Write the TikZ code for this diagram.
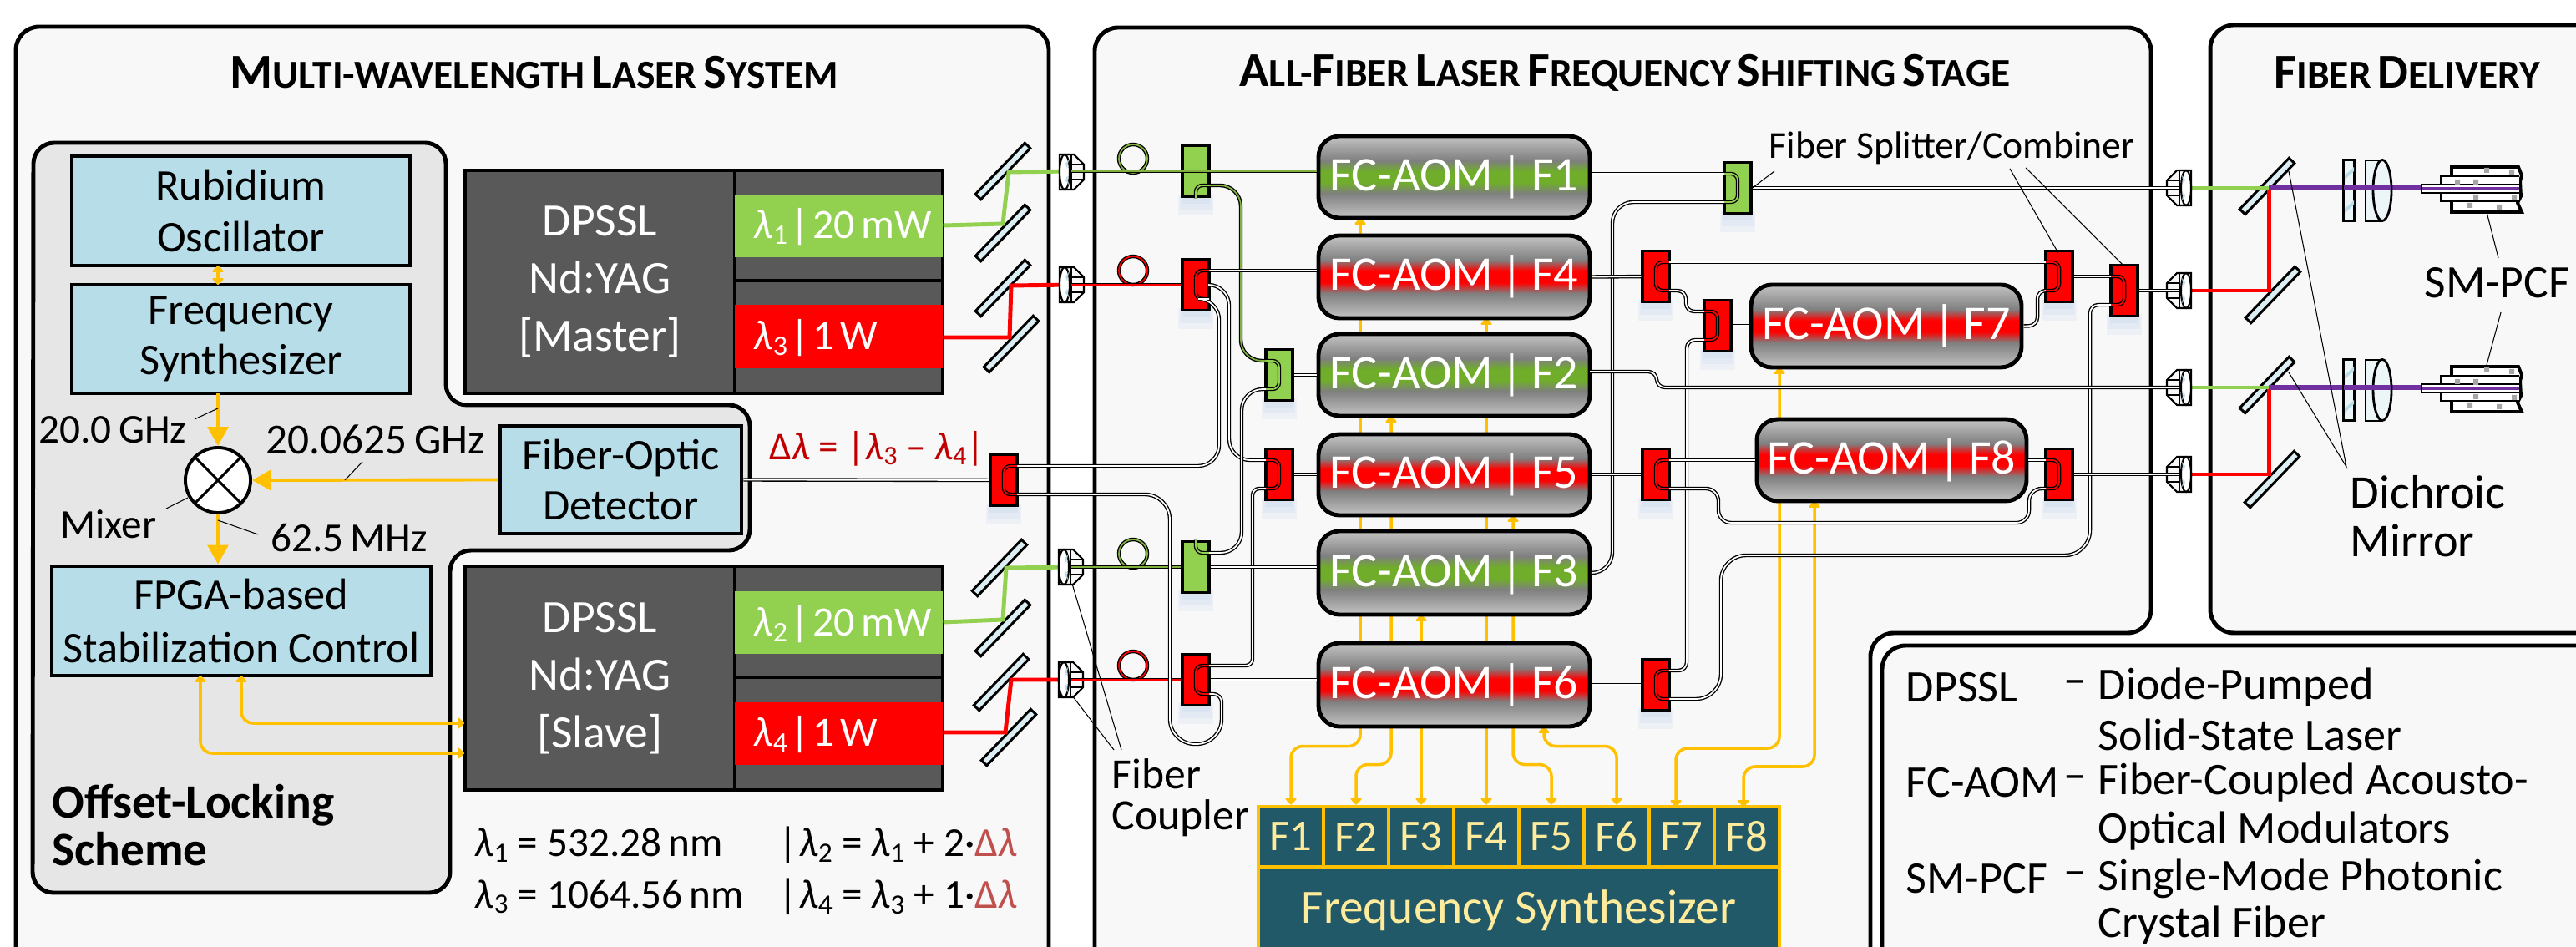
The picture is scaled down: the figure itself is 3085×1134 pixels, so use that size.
\documentclass[tikz,border=0pt]{standalone}
\usepackage{fontspec}
\usepackage{graphicx}
\setmainfont{Carlito}
\usetikzlibrary{arrows.meta,calc}
\definecolor{panelbg}{HTML}{F8F8F8}
\definecolor{grayzone}{HTML}{E6E6E6}
\definecolor{boxblue}{HTML}{B7DDE8}
\definecolor{dark}{HTML}{595959}
\definecolor{lgreen}{HTML}{92D050}
\definecolor{lred}{HTML}{FF0000}
\definecolor{rfy}{HTML}{FFC000}
\definecolor{teal}{HTML}{215968}
\definecolor{tyel}{HTML}{FFEB9C}
\definecolor{mirrorb}{HTML}{DAEEF3}
\definecolor{dred}{HTML}{C00000}
\definecolor{sred}{HTML}{C0504D}
\definecolor{gL}{HTML}{C4C4C4}
\definecolor{gM}{HTML}{7F7F7F}
\definecolor{agreen}{HTML}{6FAD2A}
\definecolor{fgreen}{HTML}{7FB040}
\definecolor{purp}{HTML}{7030A0}
\definecolor{glowc}{HTML}{8DB4E2}
\pgfdeclareverticalshading{aomR}{100bp}{color(0bp)=(gL);color(25bp)=(gL);color(40bp)=(gM);color(46.5bp)=(lred);color(53.5bp)=(lred);color(60bp)=(gM);color(75bp)=(gL);color(100bp)=(gL)}
\pgfdeclareverticalshading{aomG}{100bp}{color(0bp)=(gL);color(25bp)=(gL);color(40bp)=(gM);color(46.5bp)=(agreen);color(53.5bp)=(agreen);color(60bp)=(gM);color(75bp)=(gL);color(100bp)=(gL)}
\pgfdeclarelayer{backl}
\pgfdeclarelayer{wires}
\pgfsetlayers{backl,wires,main}
\newcommand\fs[2]{\fontsize{#1}{#2}\selectfont}
\newcommand\lsub[1]{\raisebox{-0.28ex}{\scalebox{0.68}{#1}}}
\newcommand\lam[1]{{\itshape λ}\lsub{#1}}
\newcommand\SC[2]{{\fs{16.6}{16}#1}{\fs{13.5}{16}#2}}
\newcommand\bx[7]{\node[#6,inner sep=0pt,minimum width={(#4-#2)*0.01cm},minimum height={(#5-#3)*0.01cm}] (#1) at ({(#2+#4)/2},{(#3+#5)/2}) {#7};}
\newcommand\splitter[4]{%
 \foreach \e/\w in {8/17,15/19,22/21}{\fill[glow] ({#2-\w},{#3+28}) rectangle ({#2+\w},{#3+31+\e});}
 \node[splitbox,fill=#4] (#1) at (#2,#3) {};
 \coordinate (#1-tr) at ({#2+16},{#3-17});
 \coordinate (#1-br) at ({#2+16},{#3+17});
 \coordinate (#1-tl) at ({#2-16},{#3-17});
 \coordinate (#1-bl) at ({#2-16},{#3+17});
 \coordinate (#1-ct) at (#2,{#3-17});
 \coordinate (#1-cb) at (#2,{#3+17});
 \coordinate (#1-mr) at ({#2+16},#3);
}
\newcommand\Ur[2]{\draw[#2,rounded corners=.08cm] (#1-tr) -- (#1-ct) -- (#1-cb) -- (#1-br);}
\newcommand\Ul[2]{\draw[#2,rounded corners=.08cm] (#1-tl) -- (#1-ct) -- (#1-cb) -- (#1-bl);}
\tikzset{
 x=0.01cm,y=-0.01cm,
 panel/.style={draw=black,line width=1.4pt,fill=panelbg,rounded corners=.28cm},
 bluebox/.style={draw=black,line width=1.4pt,fill=boxblue,align=center,font=\fs{14.9}{17}},
 darkbox/.style={draw=black,line width=1.2pt,fill=dark,text=white,align=center,font=\fs{15.8}{19.6}},
 colbar/.style={fill=#1,draw=none},
 ltext/.style={text=white,font=\fs{14.2}{17},anchor=west,inner sep=0pt},
 txt/.style={font=\fs{14}{17},inner sep=0pt,align=left},
 aomn/.style={draw=black,line width=1.4pt,rounded corners=.25cm,shade,shading=#1,text=white,font=\fs{16.5}{17}},
 splitbox/.style={draw=black,line width=1pt,minimum width=.32cm,minimum height=.61cm,inner sep=0pt},
 glow/.style={fill=glowc,opacity=.1},
 mirror/.style={draw=black,line width=.85pt,fill=mirrorb,rotate=46,minimum width=.85cm,minimum height=.09cm,inner sep=0pt},
 fib/.style={draw=black,line width=.38pt,double=white,double distance=.5pt},
 fibG/.style={draw=black,line width=.38pt,double=fgreen,double distance=.5pt},
 fibL/.style={draw=black,line width=.38pt,double=lgreen,double distance=.5pt},
 fibR/.style={draw=black,line width=.38pt,double=lred,double distance=.5pt},
 beam/.style={line width=1.4pt,draw=#1,line join=miter},
 rf/.style={draw=rfy,line width=1pt,rounded corners=.14cm,{Triangle[round,length=2.4pt,width=4.4pt]}-{Triangle[round,length=2.4pt,width=4.4pt]}},
 sig/.style={draw=rfy,line width=1.1pt,-{Triangle[length=6.5pt,width=7pt]}},
 leader/.style={draw=black,line width=.3pt},
 wplate/.style={draw=black,line width=.8pt,fill=mirrorb!50,minimum width=.13cm,minimum height=.73cm,inner sep=0pt},
 pics/lensc/.style={code={
  \draw[line width=.6pt,fill=panelbg] (-14,-21) -- (3,-21) -- (15,-9) -- (15,9) -- (3,21) -- (-14,21) -- cycle;
  \draw[line width=.4pt] (0,-21) -- (0,21);
  \draw[line width=.4pt] (0,-9) -- (15,-9) (0,9) -- (15,9);
  \draw[line width=.6pt,fill=white] (-8,0) ellipse (6 and 21);
  \fill[boxblue] (-7,-10) -- (-3,-15) -- (-5,-4) -- cycle (-7,10) -- (-3,15) -- (-5,4) -- cycle;
 }},
 pics/fibtip/.style={code={
  \draw[line width=1.1pt,fill=white] (36,-25) -- (116,-25) -- (120,-15) -- (118,-8) -- (119,10) -- (115,18) -- (120,29) -- (36,29) -- cycle;
  \draw[line width=.8pt,fill=white] (117,-14) -- (23,-14) -- (23,16) -- (117,16);
  \draw[line width=.5pt,fill=white] (117,-4) -- (0,-4) -- (0,6) -- (117,6);
  \fill[black!35] (40,-10) rectangle (46,-4) (75,-24) rectangle (81,-18) (62,8) rectangle (68,14) (90,20) rectangle (96,26) (62,-10) rectangle (68,-3) (105,-22) rectangle (111,-16) (55,18) rectangle (61,24) (108,9) rectangle (114,15);
  \draw[line width=.9pt,purp] (0,1) -- (117,1);
 }},
}
\begin{document}
\begin{tikzpicture}
\useasboundingbox (0,0) rectangle (3085,1134);
\begin{pgfonlayer}{backl}
\draw[panel] (19,32) rectangle (1256,1240);
\draw[panel] (1311,1240) -- (1311,33) -- (2576,33) -- (2576,758) -- (2240,758) -- (2240,1240);
\draw[panel] (2647,30) rectangle (3200,758);
\draw[panel] (2254,1240) -- (2254,773) -- (3200,773) -- (3200,1240);
\draw[draw=black,line width=1.4pt,fill=grayzone,rounded corners=.25cm] (40,171) -- (534,171) -- (534,485) -- (898,485) -- (898,659) -- (539,659) -- (539,1069) -- (39,1069) -- cycle;
\end{pgfonlayer}

% titles
\node[font=\bfseries,inner sep=0pt] (t1) at (640,87) {\SC{M}{ULTI-WAVELENGTH} \SC{L}{ASER} \SC{S}{YSTEM}};
\node[font=\bfseries,inner sep=0pt] (t2) at (1946,87) {\SC{A}{LL-}\SC{F}{IBER} \SC{L}{ASER} \SC{F}{REQUENCY} \SC{S}{HIFTING} \SC{S}{TAGE}};
\node[font=\bfseries,inner sep=0pt] (t3) at (2883,87) {\SC{F}{IBER} \SC{D}{ELIVERY}};

% offset locking
\bx{rub}{86}{187}{491}{318}{bluebox}{Rubidium\\[.6pt]Oscillator}
\bx{fsy}{86}{341}{491}{471}{bluebox}{Frequency\\Synthesizer}
\bx{det}{599}{510}{888}{639}{bluebox}{Fiber-Optic\\Detector}
\bx{fpga}{62}{678}{516}{809}{bluebox}{FPGA-based\\[1pt]Stabilization Control}
\node[draw=black,line width=1.1pt,fill=white,circle,minimum size=.78cm,inner sep=0pt] (mix) at (261,575) {};
\draw[line width=.9pt] (mix.north west) -- (mix.south east) (mix.north east) -- (mix.south west);
\node[txt] (l20) at (135,515) {20.0\,GHz};
\node[txt,font=\fs{14.6}{17}] (l206) at (450,526) {20.0625\,GHz};
\node[txt] (lmix) at (130,628) {Mixer};
\node[txt] (l62) at (418,644) {62.5\,MHz};
\node[font=\bfseries\fs{16.3}{16.2},align=left,inner sep=0pt,anchor=north west] (ols) at (62,939) {Offset-Locking\\Scheme};

% lasers
\bx{m1}{557}{204}{880}{471}{darkbox}{DPSSL\\Nd:YAG\\{[Master]}}
\bx{m2}{880}{204}{1129}{336}{darkbox}{}
\bx{m3}{880}{336}{1129}{471}{darkbox}{}
\bx{mg}{880}{233}{1129}{308}{colbar=lgreen}{}
\bx{mr}{880}{365}{1129}{441}{colbar=lred}{}
\node[ltext] (mgt) at (902,272) {\lam{1}\hspace{1pt}|\hspace{1pt}20\,mW};
\node[ltext] (mrt) at (902,405) {\lam{3}\hspace{1pt}|\hspace{1pt}1\,W};
\bx{s1}{557}{678}{880}{946}{darkbox}{DPSSL\\Nd:YAG\\{[Slave]}}
\bx{s2}{880}{678}{1129}{811}{darkbox}{}
\bx{s3}{880}{811}{1129}{946}{darkbox}{}
\bx{sg}{880}{708}{1129}{783}{colbar=lgreen}{}
\bx{sr}{880}{841}{1129}{916}{colbar=lred}{}
\node[ltext] (sgt) at (902,748) {\lam{2}\hspace{1pt}|\hspace{1pt}20\,mW};
\node[ltext] (srt) at (902,880) {\lam{4}\hspace{1pt}|\hspace{1pt}1\,W};

% equations
\node[txt,anchor=west] (e1) at (568,1012) {\lam{1} = 532.28\,nm};
\node[txt,anchor=west] (e2) at (568,1074) {\lam{3} = 1064.56\,nm};
\node[txt,anchor=west] (e3) at (932,1012) {|\hspace{.5pt}\lam{2} = \lam{1} + 2·{\color{sred}Δ\itshape λ}};
\node[txt,anchor=west] (e4) at (932,1074) {|\hspace{.5pt}\lam{4} = \lam{3} + 1·{\color{sred}Δ\itshape λ}};
\node[txt,anchor=west,text=dred,font=\fs{13.4}{17}] (dl) at (921,537) {Δ{\itshape λ} = |\lam{3} – \lam{4}|};

% AOMs
\bx{aomF1}{1579}{163}{1904}{261}{aomn=aomG}{FC-AOM\,|\,F1}
\bx{aomF4}{1579}{282}{1904}{381}{aomn=aomR}{FC-AOM\,|\,F4}
\bx{aomF2}{1579}{400}{1904}{498}{aomn=aomG}{FC-AOM\,|\,F2}
\bx{aomF5}{1579}{520}{1904}{617}{aomn=aomR}{FC-AOM\,|\,F5}
\bx{aomF3}{1579}{636}{1904}{736}{aomn=aomG}{FC-AOM\,|\,F3}
\bx{aomF6}{1579}{770}{1904}{870}{aomn=aomR}{FC-AOM\,|\,F6}
\bx{aomF7}{2097}{341}{2421}{440}{aomn=aomR}{FC-AOM\,|\,F7}
\bx{aomF8}{2104}{502}{2427}{600}{aomn=aomR}{FC-AOM\,|\,F8}

% synthesizer
\bx{syn}{1507}{1038}{2131}{1240}{draw=rfy,line width=1.4pt,fill=teal}{}
\node[text=tyel,font=\fs{16.3}{17},inner sep=0pt] (synt) at (1819,1090) {Frequency Synthesizer};
\foreach \i in {1,...,8}{
 \bx{c\i}{(1507+78*(\i-1))}{966}{(1507+78*\i)}{1038}{draw=rfy,line width=1.4pt,fill=teal,text=tyel,font=\fs{15}{17}}{F\i}
}

% RF ports
\coordinate (rf1) at (1629,261);
\coordinate (rf2) at (1666,498);
\coordinate (rf3) at (1702,736);
\coordinate (rf4) at (1780,381);
\coordinate (rf5) at (1812,617);
\coordinate (rf6) at (1849,870);
\coordinate (rf7) at (2131,440);
\coordinate (rf8) at (2173,600);
\coordinate (c7p) at (2007,966);
\coordinate (c8p) at (2088,966);
\begin{pgfonlayer}{wires}
\draw[rf] (c1.north) -- ++(0,-70) -| (rf1);
\draw[rf] (c2.north) -- ++(0,-48) -| (rf2);
\draw[rf] (c3.north) -- (rf3);
\draw[rf] (c4.north) -- (rf4);
\draw[rf] (c5.north) -- ++(0,-48) -| (rf5);
\draw[rf] (c6.north) -- ++(0,-70) -| (rf6);
\draw[rf] (c7p) -- ++(0,-70) -| (rf7);
\draw[rf] (c8p) -- ++(0,-48) -| (rf8);
\end{pgfonlayer}
\coordinate (fp1) at (240,809);
\coordinate (fp2) at (289,809);
\coordinate (ls1) at (556,902);
\coordinate (ls2) at (556,866);
\coordinate (rb) at (261,318);
\coordinate (fst) at (261,341);
\coordinate (fsb) at (261,471);
\draw[rf] (rb) -- (fst);
\draw[rf] (fp1) |- (ls1);
\draw[rf] (fp2) |- (ls2);
\draw[sig] (fsb) -- (mix.north);
\draw[sig] (det.west) -- (mix.east);
\draw[sig] (mix.south) -- (fpga.north -| mix);

% leaders
\coordinate (a1) at (233,502); \coordinate (a2) at (261,489);
\draw[leader] (a1) -- (a2);
\coordinate (a3) at (434,553); \coordinate (a4) at (413,575);
\draw[leader] (a3) -- (a4);
\coordinate (a5) at (199,609); \coordinate (a6) at (225,596);
\draw[leader] (a5) -- (a6);
\coordinate (a7) at (261,623); \coordinate (a8) at (309,640);
\draw[leader] (a7) -- (a8);

% mirrors left
\foreach \n/\x/\y in {ml1/1201/205,ml2/1201/279,ml3/1201/345,ml4/1211/412,ml5/1197/680,ml6/1201/752,ml7/1199/817,ml8/1208/883}{
 \node[mirror] (\n) at (\x,\y) {};
}
% mirrors right
\foreach \n/\x/\y in {mr1/2715/223,mr2/2722/353,mr3/2715/461,mr4/2721/574}{
 \node[mirror] (\n) at (\x,\y) {};
}

% couplers anchors
\coordinate (cL1) at (1283,205);
\coordinate (cL2) at (1283,341);
\coordinate (cL3) at (1283,679);
\coordinate (cL4) at (1283,814);
\coordinate (cR1) at (2610,225);
\coordinate (cR2) at (2610,348);
\coordinate (cR3) at (2610,464);
\coordinate (cR4) at (2610,568);

% free-space beams
\draw[beam=lgreen] (mg.east |- 0,270) -- (1201,268) -- (1208,206) -- (cL1);
\draw[beam=lred] (mr.east |- 0,404) -- (1209,404) -- (1211,342) -- (cL2);
\draw[beam=lgreen] (sg.east |- 0,745) -- (1201,742) -- (1205,680) -- (cL3);
\draw[beam=lred] (sr.east |- 0,877) -- (1204,877) -- (1211,814) -- (cL4);
\coordinate (dc1) at (2717,225);
\coordinate (dc3) at (2717,464);
\coordinate (tp1) at (2901,225);
\coordinate (tp3) at (2901,464);
\draw[beam=lred] (cR2) -| (dc1);
\draw[beam=lred] (cR4) -| (dc3);
\draw[beam=lgreen] (cR1) -- (dc1);
\draw[beam=lgreen] (cR3) -- (dc3);
\draw[line width=1.7pt,purp] (dc1) -- (tp1);
\draw[line width=1.7pt,purp] (dc3) -- (tp3);

% coupling lenses
\pic at (1283,206) {lensc};
\pic at (1283,341) {lensc};
\pic at (1282,679) {lensc};
\pic at (1282,814) {lensc};
\pic[xscale=-1] at (2610,225) {lensc};
\pic[xscale=-1] at (2610,348) {lensc};
\pic[xscale=-1] at (2610,464) {lensc};
\pic[xscale=-1] at (2610,568) {lensc};

% delivery optics
\foreach \n/\y in {1/228,3/467}{
 \node[wplate] (wp\n) at (2813,\y) {};
 \fill[boxblue] (2808,{\y-18}) -- (2819,{\y-28}) -- (2819,{\y-23}) -- (2808,{\y-13}) -- cycle (2808,{\y+22}) -- (2819,{\y+12}) -- (2819,{\y+17}) -- (2808,{\y+27}) -- cycle;
 \draw[line width=.8pt,fill=mirrorb!50] (2853,{\y-36}) -- (2833,{\y-36}) -- (2833,{\y+37}) -- (2853,{\y+37});
 \draw[line width=.8pt,fill=mirrorb!50] (2853,\y) ellipse (11 and 36.5);
}
\draw[line width=1.7pt,purp] (2807,225) -- (2864,225);
\draw[line width=1.7pt,purp] (2807,464) -- (2864,464);
\pic at (2900,225) {fibtip};
\pic at (2900,464) {fibtip};

% splitters
\splitter{spA1}{1432}{205}{lgreen}
\splitter{spA2}{1432}{341}{lred}
\splitter{spB}{1532}{449}{lgreen}
\splitter{spC}{1532}{568}{lred}
\splitter{spD}{1202}{575}{lred}
\splitter{spE}{1432}{679}{lgreen}
\splitter{spF}{1432}{814}{lred}
\splitter{spG}{2081}{225}{lgreen}
\splitter{spH}{1983}{331}{lred}
\splitter{spJ}{2466}{331}{lred}
\splitter{spK}{2544}{348}{lred}
\splitter{spL}{1983}{820}{lred}
\splitter{spM}{2057}{390}{lred}
\splitter{spN}{1983}{568}{lred}
\splitter{spO}{2466}{568}{lred}

% fiber loops
\draw[fibG] (1357,190) circle (17);
\draw[fibR] (1357,324) circle (17);
\draw[fibG] (1357,663) circle (17);
\draw[fibR] (1357,797) circle (17);

% fibers with seed light
\draw[fibG] (cL1) -- (spA1 -| aomF1.west);
\draw[fibR] (cL2) -- (spA2);
\draw[fibG] (cL3) -- (spE);
\draw[fibR] (cL4) -- (spF);
\draw[fibL,rounded corners=.08cm] (spA1) -- (spA1-cb) -- (spA1-br);
\draw[fibG,rounded corners=.25cm] (spA1-br) -| (1486,432) -- (spB-tl);
\Ul{spB}{fibL}

% white-core fibers
\draw[fib] (spA2-tr) -- (spA2-tr -| aomF4.west);
\Ur{spA2}{fibR}
\draw[fib,rounded corners=.25cm] (spA2-mr) -| (1472,551) -- (spC-tl);
\Ul{spC}{fibR}
\draw[fib,rounded corners=.25cm] (spA2-br) -| (1460,558) -- (spD-tr);
\draw[fib] (det.east) -- (spD);
\Ur{spD}{fibR}
\draw[fib,rounded corners=.3cm] (spD-br) -- (1401,592) -- (1401,891) -- (1463,891) [rounded corners=.1cm] -- (1463,831) -- (spF-br);
\Ur{spF}{fibR}
\draw[fib,rounded corners=.08cm] (spF-tr) -| (1500,585) -- (spC-bl);
\draw[fibL,rounded corners=.08cm] (spE) -- (spE-ct) -- (spE-tr);
\draw[fib,rounded corners=.25cm] (spE-tr) -| (1487,466) -- (spB-bl);
\draw[fib] (spB) -- (spB -| aomF2.west);
\draw[fib] (spC) -- (spC -| aomF5.west);
\draw[fib] (spE) -- (spE -| aomF3.west);
\draw[fib] (spF) -- (spF -| aomF6.west);

\draw[fib] (spG-tl -| aomF1.east) -- (spG-tl);
\Ul{spG}{fibL}
\draw[fib] (spG) -- (cR1);
\draw[fib,rounded corners=.25cm] (spG-bl) -| (1931,686) -- (aomF3.east);
\draw[fib] (aomF4.east) -- (spH);
\Ur{spH}{fibR}
\draw[fib] (spH-tr) -- (spJ-tl);
\draw[fib,rounded corners=.1cm] (spH-br) -| (2019,373) -- (spM-tl);
\Ul{spM}{fibR}
\draw[fib] (spM) -- (spM -| aomF7.west);
\draw[fib,rounded corners=.1cm] (aomF7.east) -- (2440,390) -- (2440,348) -- (spJ-bl);
\Ul{spJ}{fibR}
\draw[fib] (spJ) -- (spK-tl);
\Ul{spK}{fibR}
\draw[fib] (spK) -- (cR2);
\draw[fib,rounded corners=.3cm] (spL-br) -| (2061,665) -- (2503,665) [rounded corners=.1cm] -- (2503,365) -- (spK-bl);
\draw[fib] (aomF6.east |- spL) -- (spL);
\Ur{spL}{fibR}
\draw[fib,rounded corners=.1cm] (spL-tr) -| (2020,407) -- (spM-bl);
\coordinate (f2o) at (1904,445);
\draw[fib,rounded corners=.1cm] (f2o) -- (1984,445) -- (1984,464) -- (cR3);
\draw[fib] (aomF5.east |- spN) -- (spN);
\Ur{spN}{fibR}
\draw[fib] (spN-tr) -- (spN-tr -| aomF8.west);
\draw[fib] (spO-tl -| aomF8.east) -- (spO-tl);
\Ul{spO}{fibR}
\draw[fib] (spO) -- (cR4);
\draw[fib,rounded corners=.15cm] (spN-br) -- (2058,585) -- (2058,626) -- (2430,626) -- (2430,585) -- (spO-bl);

% right-hand labels and leaders
\node[txt,anchor=west,font=\fs{13}{17}] (fsc) at (2118,177) {Fiber Splitter/Combiner};
\coordinate (b1) at (2125,205); \draw[leader] (b1) -- (spG.east);
\coordinate (b2) at (2407,202); \coordinate (b3) at (2465,303); \draw[leader] (b2) -- (b3);
\coordinate (b4) at (2426,201); \coordinate (b5) at (2542,317); \draw[leader] (b4) -- (b5);
\node[txt,anchor=west,font=\fs{14.7}{17}] (fc) at (1331,927) {Fiber};
\node[txt,anchor=west,font=\fs{14.7}{17}] (fc2) at (1331,980) {Coupler};
\coordinate (b6) at (1343,898); \coordinate (b7) at (1284,699); \draw[leader] (b6) -- (b7);
\coordinate (b8) at (1334,898); \coordinate (b9) at (1284,833); \draw[leader] (b8) -- (b9);
\node[txt,anchor=west,font=\fs{15.8}{17}] (smp) at (2903,339) {SM-PCF};
\coordinate (d1) at (2978,254); \coordinate (d2) at (2992,309); \draw[leader] (d1) -- (d2);
\coordinate (d3) at (2995,374); \coordinate (d4) at (2978,437); \draw[leader] (d3) -- (d4);
\node[txt,anchor=west,font=\fs{16}{17}] (dm) at (2814,589) {Dichroic};
\node[txt,anchor=west,font=\fs{16}{17}] (dm2) at (2814,647) {Mirror};
\coordinate (d5) at (2810,559); \coordinate (d6) at (2741,446); \coordinate (d7) at (2741,205);
\draw[leader] (d6) -- (d5) -- (d7);

% legend
\foreach \n/\y/\a/\b in {1/823/DPSSL/Diode-Pumped,2/880//Solid-State Laser,3/937/FC-AOM/Fiber-Coupled Acousto-,4/995//Optical Modulators,5/1052/SM-PCF/Single-Mode Photonic,6/1108//Crystal Fiber}{
 \node[txt,anchor=west,font=\fs{15.4}{17}] (la\n) at (2282,\y) {\a};
 \node[txt,anchor=west,font=\fs{15.4}{17}] (lb\n) at (2512,\y) {\b};
}
\node[txt,anchor=west,font=\fs{15.4}{17}] (dsh1) at (2471,823) {–};
\node[txt,anchor=west,font=\fs{15.4}{17}] (dsh2) at (2471,937) {–};
\node[txt,anchor=west,font=\fs{15.4}{17}] (dsh3) at (2471,1052) {–};
\end{tikzpicture}
\end{document}
